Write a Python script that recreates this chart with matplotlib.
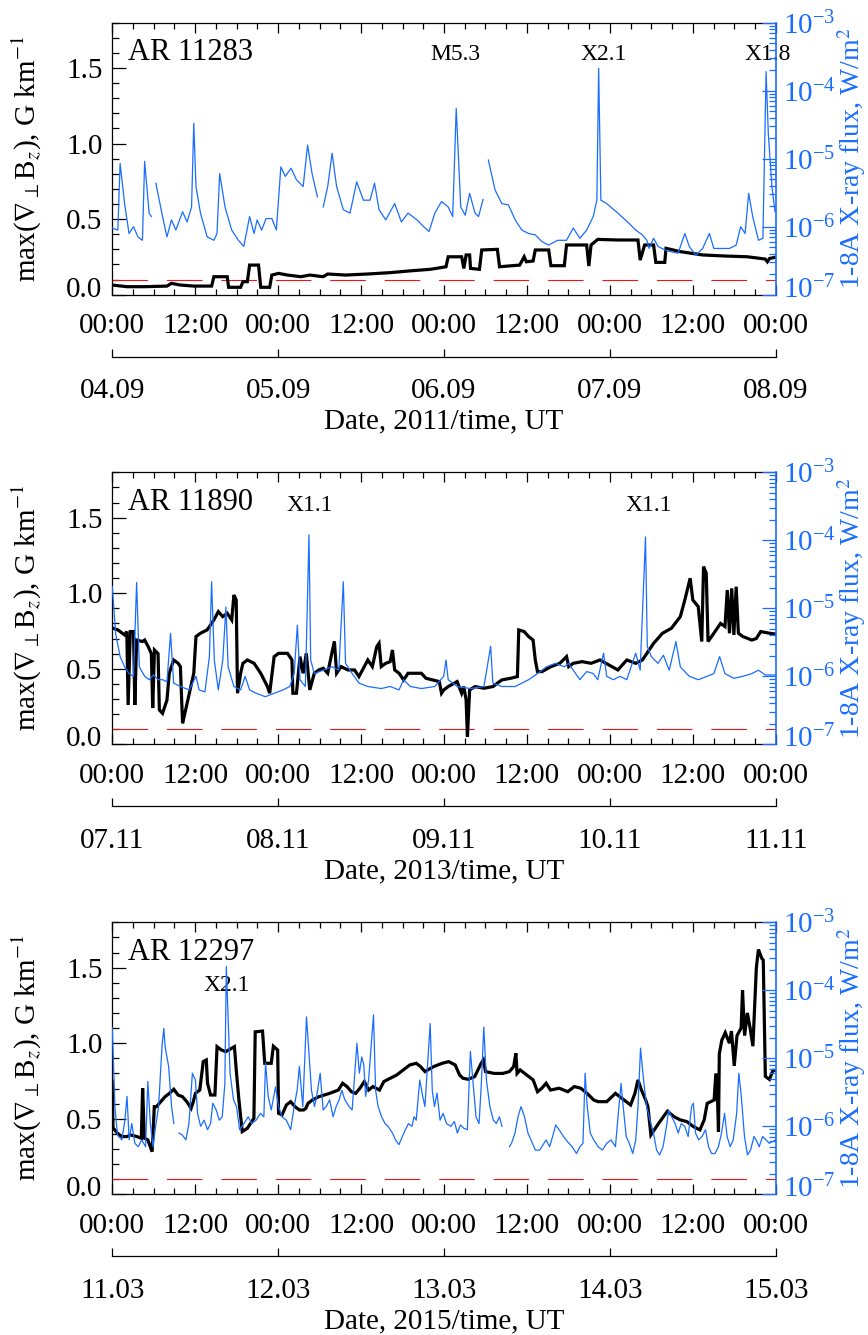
import numpy as np
import matplotlib
matplotlib.use('Agg')
import matplotlib.pyplot as plt
from matplotlib.ticker import MultipleLocator, FixedLocator, LogLocator, NullFormatter, LogFormatterSciNotation
from matplotlib.transforms import ScaledTranslation

plt.rcParams['font.family'] = ['Liberation Serif', 'DejaVu Serif']
plt.rcParams['mathtext.fontset'] = 'stix'

NAN = float('nan')
BLUE = '#1a6dff'
RED = '#e8141e'

# ---------------- data (hours since first 00:00, values) ----------------
TIME_TICKS = [0, 12, 24, 36, 48, 60, 72, 84, 96]
TIME_LABELS = ['00:00', '12:00', '00:00', '12:00', '00:00', '12:00', '00:00', '12:00', '00:00']
DAY_TICKS = [0, 24, 48, 72, 96]
FLUX_TICKS = [1e-7, 1e-6, 1e-5, 1e-4, 1e-3]

P1_DATES = ['04.09', '05.09', '06.09', '07.09', '08.09']
P2_DATES = ['07.11', '08.11', '09.11', '10.11', '11.11']
P3_DATES = ['11.03', '12.03', '13.03', '14.03', '15.03']
YEARS = ['2011', '2013', '2015']
REGIONS = ['AR 11283', 'AR 11890', 'AR 12297']
THRESHOLD = 0.1

P1_FLARES = [('M5.3', 49.7), ('X2.1', 71.1), ('X1.8', 94.8)]
P2_FLARES = [('X1.1', 28.6), ('X1.1', 77.6)]
P3_FLARES = [('X2.1', 16.5)]

# max gradient, G/km
P1_GRAD = [(0.0, 0.064), (2.1, 0.053), (4.68, 0.053), (7.91, 0.057), (8.56, 0.075), (9.85, 0.064),
           (11.79, 0.057), (14.37, 0.057), (14.7, 0.119), (16.63, 0.119), (16.83, 0.049), (18.57, 0.049),
           (18.9, 0.086), (19.54, 0.086), (19.87, 0.196), (21.16, 0.196), (21.48, 0.049), (22.77, 0.049),
           (23.09, 0.130), (24.06, 0.141), (25.35, 0.130), (27.29, 0.119), (28.58, 0.130), (30.52, 0.119),
           (31.17, 0.137), (33.75, 0.130), (36.98, 0.137), (40.21, 0.146), (43.44, 0.159), (46.03, 0.168),
           (48.29, 0.185), (48.61, 0.251), (50.55, 0.251), (50.87, 0.174), (51.2, 0.263), (51.71, 0.263),
           (51.84, 0.174), (53.13, 0.168), (53.46, 0.296), (55.72, 0.300), (56.04, 0.185), (58.95, 0.196),
           (59.6, 0.251), (59.92, 0.218), (60.89, 0.223), (61.21, 0.296), (63.15, 0.296), (63.47, 0.192),
           (65.41, 0.192), (65.73, 0.329), (68.64, 0.329), (68.96, 0.190), (69.28, 0.329), (70.25, 0.366),
           (73.16, 0.362), (76.07, 0.362), (76.39, 0.229), (77.03, 0.329), (78.33, 0.329), (78.65, 0.214),
           (79.94, 0.214), (80.13, 0.307), (82.2, 0.285), (85.43, 0.263), (88.66, 0.256), (91.89, 0.251),
           (94.48, 0.236), (94.8, 0.218), (95.12, 0.240), (95.9, 0.247)]

# log10 of GOES 1-8 A flux, W/m^2
P1_XRAY = [(0.0, -6.02), (0.8, -6.05), (1.13, -5.07), (1.78, -5.66), (2.42, -6.10), (3.07, -6.00),
           (3.71, -6.15), (4.36, -6.20), (4.68, -5.04), (5.33, -5.80), (5.65, -5.85), (5.9, NAN),
           (6.30, -5.36), (7.27, -5.85), (7.91, -6.15), (8.56, -5.90), (9.20, -6.05), (10.17, -5.78),
           (10.82, -5.93), (11.47, -5.71), (11.79, -4.48), (12.11, -5.41), (12.76, -5.80), (13.73, -6.15),
           (14.70, -6.20), (15.15, -6.10), (15.54, -5.22), (16.31, -5.71), (17.28, -6.05), (18.25, -6.20),
           (19.03, -6.29), (19.87, -5.85), (20.51, -6.10), (20.96, -5.90), (21.61, -6.05), (22.25, -5.88),
           (23.09, -5.88), (23.74, -6.05), (24.39, -5.12), (25.03, -5.26), (25.87, -5.14), (26.65, -5.31),
           (27.62, -5.41), (28.26, -4.80), (28.91, -5.22), (29.68, -5.56), (30.1, NAN), (30.52, -5.71),
           (31.17, -5.41), (31.81, -4.92), (32.46, -5.41), (33.43, -5.75), (34.40, -5.80), (35.37, -5.34),
           (36.34, -5.61), (37.30, -5.61), (37.95, -5.36), (38.60, -5.75), (39.57, -5.90), (40.86, -5.66),
           (41.83, -5.93), (42.80, -5.80), (44.09, -5.90), (45.06, -6.00), (45.84, -6.07), (46.67, -5.80),
           (47.64, -5.63), (48.61, -5.71), (49.26, -5.85), (49.77, -4.26), (50.42, -5.71), (51.07, -5.83),
           (51.71, -5.51), (52.49, -5.80), (53.00, -5.85), (53.65, -5.60), (54.0, NAN), (54.42, -5.02),
           (55.39, -5.46), (56.36, -5.66), (57.33, -5.68), (58.30, -5.90), (59.27, -6.05), (60.24, -6.10),
           (61.21, -6.12), (62.18, -6.22), (63.15, -6.27), (64.44, -6.20), (65.73, -6.20), (66.70, -6.02),
           (67.67, -6.17), (68.64, -6.05), (69.60, -5.85), (70.12, -5.61), (70.38, -3.67), (70.70, -5.61),
           (71.54, -5.66), (73.16, -5.80), (74.77, -5.95), (75.74, -6.05), (76.71, -6.12), (77.36, -6.20),
           (77.68, -6.32), (78.33, -6.17), (78.97, -6.29), (79.94, -6.34), (80.91, -6.37), (81.88, -6.39),
           (82.85, -6.10), (83.49, -6.29), (84.46, -6.42), (85.43, -6.32), (86.40, -6.10), (87.05, -6.32),
           (88.02, -6.32), (89.31, -6.32), (90.28, -6.27), (90.93, -6.00), (91.57, -6.10), (92.09, -5.51),
           (92.67, -5.85), (93.51, -6.20), (94.15, -6.17), (94.61, -3.72), (94.93, -4.63), (95.45, -5.41),
           (95.90, -5.78)]

P2_GRAD = [(0.0, 0.77), (0.81, 0.757), (1.78, 0.724), (2.1, 0.746), (2.29, 0.26), (2.6, 0.746), (3.07, 0.746),
           (3.26, 0.26), (3.52, 0.69), (4.36, 0.68), (4.68, 0.69), (5.2, 0.646), (5.65, 0.60), (5.85, 0.24),
           (6.1, 0.624), (6.62, 0.60), (6.81, 0.227), (7.27, 0.205), (7.91, 0.293), (8.24, 0.47), (8.88, 0.558),
           (9.53, 0.536), (9.85, 0.514), (10.17, 0.139), (10.5, 0.205), (11.14, 0.338), (11.79, 0.47),
           (12.11, 0.713), (12.76, 0.735), (13.73, 0.757), (14.7, 0.823), (15.34, 0.878), (15.99, 0.845),
           (16.63, 0.867), (17.28, 0.823), (17.6, 0.988), (17.93, 0.955), (18.12, 0.338), (18.57, 0.47),
           (18.9, 0.536), (19.54, 0.558), (20.51, 0.536), (21.48, 0.47), (22.45, 0.382), (22.77, 0.338),
           (23.42, 0.58), (24.06, 0.602), (25.35, 0.602), (26.0, 0.558), (26.13, 0.338), (26.65, 0.338),
           (27.16, 0.58), (27.62, 0.47), (28.07, 0.602), (28.58, 0.36), (29.23, 0.47), (29.88, 0.492),
           (30.52, 0.503), (31.17, 0.47), (31.81, 0.613), (32.14, 0.68), (32.46, 0.47), (33.11, 0.514),
           (34.08, 0.492), (35.05, 0.492), (35.69, 0.448), (36.98, 0.558), (37.63, 0.514), (38.27, 0.646),
           (38.6, 0.668), (38.92, 0.514), (39.57, 0.536), (40.21, 0.547), (40.54, 0.624), (40.86, 0.492),
           (41.5, 0.47), (42.15, 0.426), (42.8, 0.47), (44.09, 0.47), (44.73, 0.47), (45.38, 0.437),
           (46.35, 0.426), (47.32, 0.415), (47.64, 0.338), (47.96, 0.36), (48.61, 0.382), (49.9, 0.415),
           (50.55, 0.338), (50.87, 0.382), (51.2, 0.293), (51.39, 0.05), (51.71, 0.36), (52.49, 0.382),
           (53.78, 0.371), (55.07, 0.382), (56.36, 0.426), (57.65, 0.437), (58.62, 0.448), (58.82, 0.757),
           (59.6, 0.746), (60.24, 0.713), (60.89, 0.69), (61.21, 0.558), (61.53, 0.481), (62.18, 0.481),
           (63.47, 0.514), (64.76, 0.536), (65.73, 0.58), (66.05, 0.514), (66.7, 0.536), (67.99, 0.547),
           (69.28, 0.536), (70.57, 0.558), (71.87, 0.525), (73.16, 0.492), (74.45, 0.558), (75.74, 0.536),
           (76.71, 0.558), (77.36, 0.602), (78.33, 0.668), (79.62, 0.735), (80.91, 0.768), (82.2, 0.845),
           (82.85, 0.955), (83.62, 1.099), (84.01, 0.955), (84.79, 0.911), (85.3, 0.68), (85.56, 1.176),
           (85.95, 1.132), (86.21, 0.68), (87.05, 0.735), (88.02, 0.80), (88.66, 0.779), (88.99, 1.021),
           (89.31, 0.735), (89.63, 1.032), (89.95, 0.724), (90.28, 1.043), (90.6, 0.735), (91.25, 0.713),
           (92.54, 0.69), (93.19, 0.70), (93.83, 0.746), (95.12, 0.735), (95.9, 0.73)]

P2_XRAY = [(0.0, -4.68), (0.48, -5.37), (1.13, -5.71), (1.78, -5.86), (2.42, -5.96), (3.07, -6.00),
           (3.52, -4.62), (3.91, -5.86), (4.68, -6.00), (5.33, -6.05), (5.98, -5.98), (6.62, -6.05),
           (7.27, -6.05), (7.91, -6.08), (8.43, -5.37), (8.88, -6.10), (9.85, -6.15), (11.14, -6.20),
           (12.11, -6.00), (12.56, -6.20), (13.4, -6.23), (14.05, -5.71), (14.37, -4.61), (14.76, -5.76),
           (15.34, -6.20), (15.99, -5.76), (16.44, -4.98), (16.76, -5.86), (17.6, -6.15), (18.57, -6.20),
           (19.22, -6.00), (19.87, -6.20), (20.83, -6.25), (22.13, -6.30), (23.42, -6.25), (24.71, -6.20),
           (25.68, -6.15), (26.32, -5.96), (26.78, -5.25), (27.16, -6.05), (27.94, -6.15), (28.46, -3.92),
           (28.71, -5.76), (29.23, -5.96), (30.52, -5.91), (31.81, -5.86), (32.78, -5.91), (33.43, -4.61),
           (33.75, -5.81), (34.72, -5.96), (35.69, -6.10), (36.98, -6.15), (38.92, -6.18), (40.21, -6.15),
           (41.5, -6.20), (42.15, -6.05), (43.12, -6.15), (44.73, -6.18), (46.67, -6.15), (47.96, -6.00),
           (48.29, -5.76), (48.61, -6.05), (49.9, -6.15), (51.84, -6.18), (53.78, -6.15), (54.42, -5.76),
           (54.75, -5.56), (55.07, -6.10), (56.36, -6.15), (58.3, -6.15), (60.24, -6.05), (61.53, -5.96),
           (62.82, -5.86), (64.11, -5.81), (65.41, -5.86), (66.05, -5.81), (66.7, -5.91), (67.67, -6.05),
           (68.64, -5.93), (69.6, -5.96), (70.25, -6.05), (71.09, -5.66), (71.54, -6.00), (72.51, -6.05),
           (73.48, -6.00), (74.45, -6.05), (75.74, -5.66), (76.39, -5.91), (77.16, -3.95), (77.42, -5.56),
           (78.0, -5.71), (78.97, -5.81), (79.75, -5.69), (80.59, -5.91), (81.56, -5.49), (82.2, -5.86),
           (83.49, -6.00), (84.79, -6.05), (86.08, -6.00), (87.05, -5.96), (87.89, -5.71), (88.66, -5.96),
           (89.95, -6.03), (91.25, -6.00), (92.54, -5.96), (93.51, -5.91), (94.48, -5.98), (95.9, -5.98)]

P3_GRAD = [(0.0, 0.75), (0.1, 0.44), (0.75, 0.404), (1.38, 0.382), (2.13, 0.382), (2.63, 0.393),
           (3.57, 0.382), (4.2, 0.371), (4.39, 0.702), (4.64, 0.371), (5.14, 0.36), (5.76, 0.282),
           (6.08, 0.58), (6.39, 0.58), (7.02, 0.613), (7.64, 0.646), (8.27, 0.668), (8.90, 0.695),
           (9.52, 0.657), (10.15, 0.646), (10.78, 0.613), (11.4, 0.569), (11.72, 0.613), (12.03, 0.668),
           (12.66, 0.69), (13.16, 0.878), (13.6, 0.889), (13.78, 0.735), (14.22, 0.657), (14.85, 0.657),
           (15.16, 0.977), (15.79, 0.955), (16.42, 0.944), (17.67, 0.977), (17.98, 0.80), (18.3, 0.635),
           (18.8, 0.415), (19.55, 0.437), (20.49, 0.503), (20.68, 1.075), (21.74, 1.08), (22.06, 0.867),
           (23.0, 0.867), (23.31, 0.98), (23.93, 0.955), (24.06, 0.536), (24.56, 0.525), (25.19, 0.591),
           (25.81, 0.613), (26.44, 0.58), (27.07, 0.558), (27.69, 0.558), (28.01, 0.569), (28.32, 0.602),
           (28.95, 0.624), (29.89, 0.646), (31.45, 0.668), (32.71, 0.69), (33.33, 0.735), (33.96, 0.713),
           (34.59, 0.679), (35.21, 0.668), (35.84, 0.702), (36.47, 0.746), (37.09, 0.69), (37.72, 0.713),
           (38.66, 0.69), (39.29, 0.746), (40.23, 0.768), (41.17, 0.79), (42.11, 0.823), (43.05, 0.856),
           (43.98, 0.867), (44.61, 0.845), (45.24, 0.812), (46.49, 0.845), (47.74, 0.867), (48.68, 0.878),
           (49.62, 0.856), (50.25, 0.79), (50.75, 0.768), (51.5, 0.761), (52.44, 0.779), (53.38, 0.867),
           (53.7, 0.889), (54.01, 0.812), (55.26, 0.80), (56.52, 0.80), (57.46, 0.812), (58.08, 0.845),
           (58.4, 0.933), (58.58, 0.80), (59.02, 0.823), (59.96, 0.79), (60.9, 0.757), (61.53, 0.679),
           (62.16, 0.702), (62.78, 0.735), (63.41, 0.69), (64.66, 0.702), (65.91, 0.679), (66.85, 0.713),
           (67.79, 0.702), (68.73, 0.667), (69.67, 0.624), (70.3, 0.613), (71.55, 0.613), (72.81, 0.668),
           (74.06, 0.624), (75.0, 0.591), (75.63, 0.668), (76.07, 0.757), (76.57, 0.69), (77.19, 0.624),
           (77.51, 0.58), (77.94, 0.393), (79.07, 0.47), (80.33, 0.55), (81.27, 0.514), (82.21, 0.492),
           (83.15, 0.481), (84.09, 0.448), (85.03, 0.426), (85.65, 0.492), (86.09, 0.602), (86.59, 0.613),
           (87.09, 0.624), (87.34, 0.80), (87.6, 0.60), (87.72, 0.415), (87.84, 0.93), (88.2, 1.02),
           (88.7, 1.07), (89.3, 1.0), (89.6, 1.08), (90.0, 0.85), (90.4, 1.05), (91.0, 1.10), (91.2, 1.35),
           (91.5, 1.05), (91.9, 1.20), (92.3, 1.10), (92.7, 0.98), (93.0, 1.30), (93.2, 1.50), (93.5, 1.62),
           (94.0, 1.56), (94.2, 1.55), (94.5, 0.78), (95.1, 0.76), (95.6, 0.82), (96.0, 0.82)]

P3_XRAY = [(0.0, -4.55), (0.38, -5.71), (0.75, -6.13), (1.38, -6.20), (1.82, -5.91), (2.13, -5.56),
           (2.44, -6.20), (2.82, -5.96), (3.26, -6.25), (3.76, -6.30), (4.26, -6.20), (4.82, -6.30),
           (5.14, -5.34), (5.51, -5.96), (5.89, -6.30), (6.27, -6.00), (6.70, -5.71), (7.21, -4.80),
           (7.46, -4.56), (7.64, -4.83), (8.15, -5.12), (8.58, -5.71), (8.90, -5.96), (9.3, NAN),
           (9.65, -6.10), (10.15, -6.13), (10.65, -6.20), (11.09, -5.96), (11.59, -5.22), (12.03, -5.32),
           (12.34, -5.81), (12.78, -6.00), (13.28, -5.91), (13.78, -6.05), (14.22, -5.96), (14.54, -5.66),
           (15.04, -5.76), (15.48, -5.91), (15.91, -5.86), (16.29, -5.37), (16.5, -3.65), (17.04, -5.22),
           (17.54, -5.61), (17.98, -5.71), (18.42, -6.05), (19.05, -5.96), (19.67, -5.86), (20.18, -5.96),
           (20.8, -5.91), (21.43, -5.81), (21.93, -5.86), (22.18, -5.07), (22.56, -5.56), (23.0, -5.76),
           (23.62, -5.42), (24.06, -5.71), (24.56, -5.86), (25.19, -5.91), (25.81, -6.05), (26.32, -5.71),
           (26.75, -5.47), (27.07, -5.12), (27.57, -5.71), (28.1, -4.39), (28.82, -5.47), (29.26, -5.71),
           (29.57, -5.56), (30.08, -5.22), (30.51, -5.76), (30.95, -5.71), (31.45, -5.61), (31.95, -5.86),
           (32.39, -5.71), (32.83, -5.61), (33.21, -5.47), (33.65, -5.61), (34.27, -5.71), (34.71, -5.76),
           (35.4, -4.78), (35.75, -5.22), (36.1, -4.98), (36.4, -5.10), (36.65, -5.56), (37.09, -5.32),
           (37.8, -4.36), (38.1, -5.47), (38.47, -5.71), (38.97, -5.86), (39.47, -5.96), (39.91, -6.00),
           (40.54, -6.10), (40.98, -6.20), (41.48, -6.27), (41.98, -6.15), (42.42, -6.05), (42.86, -5.96),
           (43.36, -6.00), (43.67, -5.86), (43.98, -5.91), (44.49, -5.32), (44.92, -5.56), (45.24, -5.71),
           (46.0, -4.49), (46.3, -5.47), (46.62, -5.71), (46.99, -5.51), (47.43, -5.91), (47.87, -5.81),
           (48.37, -5.96), (49.0, -6.00), (49.5, -5.93), (49.94, -6.10), (50.38, -5.98), (50.88, -6.03),
           (51.38, -6.05), (51.82, -4.90), (52.26, -5.42), (52.63, -5.86), (53.07, -5.96), (53.38, -5.42),
           (53.76, -4.54), (54.14, -5.32), (54.64, -5.71), (55.14, -5.91), (55.58, -5.96), (56.02, -5.86),
           (56.39, -6.00), (56.9, NAN), (57.46, -6.30), (57.77, -6.25), (58.27, -6.10), (58.71, -5.86),
           (59.15, -5.71), (59.65, -5.86), (60.15, -6.10), (60.59, -6.20), (61.22, -6.35), (61.84, -6.35),
           (62.47, -6.25), (62.78, -6.20), (63.28, -6.30), (63.72, -6.15), (64.16, -5.98), (64.66, -6.05),
           (65.29, -6.15), (65.91, -6.23), (66.54, -6.30), (67.17, -6.40), (67.67, -6.30), (68.11, -6.25),
           (68.42, -5.22), (68.73, -5.71), (69.17, -6.10), (69.67, -6.20), (70.3, -6.30), (70.93, -6.35),
           (71.55, -6.25), (72.18, -6.20), (72.81, -6.30), (73.31, -5.71), (73.62, -5.37), (73.93, -5.71),
           (74.37, -6.15), (74.81, -6.25), (75.31, -6.40), (75.75, -6.20), (76.07, -5.71), (76.44, -4.85),
           (76.88, -5.32), (77.32, -5.71), (77.82, -5.91), (78.32, -6.10), (78.76, -6.35), (79.2, -6.42),
           (79.7, -6.30), (80.2, -6.00), (80.51, -5.76), (80.95, -5.86), (81.45, -5.96), (81.89, -6.10),
           (82.33, -5.96), (82.83, -6.00), (83.33, -6.15), (83.83, -5.71), (84.09, -5.66), (84.4, -6.10),
           (84.84, -6.20), (85.34, -6.15), (85.84, -6.05), (86.28, -6.30), (86.72, -6.40), (87.22, -6.40),
           (87.72, -6.30), (88.16, -6.10), (88.6, -5.81), (88.97, -6.15), (89.41, -6.30), (89.85, -6.20),
           (90.35, -5.81), (90.66, -5.22), (90.98, -5.51), (91.48, -6.15), (91.92, -6.42), (92.36, -6.35),
           (92.86, -6.15), (93.17, -6.20), (93.61, -6.30), (94.11, -6.15), (94.61, -6.20), (95.05, -6.25),
           (96.0, -6.20)]

PANELS = [
    (REGIONS[0], P1_GRAD, P1_XRAY, P1_DATES, YEARS[0], P1_FLARES, 1.59),
    (REGIONS[1], P2_GRAD, P2_XRAY, P2_DATES, YEARS[1], P2_FLARES, 1.58),
    (REGIONS[2], P3_GRAD, P3_XRAY, P3_DATES, YEARS[2], P3_FLARES, 1.385),
]

# ---------------- layout ----------------
W, H = 868, 1335
fig = plt.figure(figsize=(W / 100, H / 100), dpi=100)
left_px, right_px = 112.3, 775.7
tops_px = [22.7, 472.3, 922.3]
ax_h_px = 272.0
FS = 21
lift = ScaledTranslation(0, 0.08, fig.dpi_scale_trans)

for (region, grad, xray, dates, year, flares, flare_y), top in zip(PANELS, tops_px):
    ax = fig.add_axes([left_px / W, 1 - (top + ax_h_px) / H, (right_px - left_px) / W, ax_h_px / H])
    gh, gv = zip(*grad)
    ax.plot(gh, gv, color='black', lw=2.3, solid_joinstyle='miter', zorder=3)
    ax.axhline(THRESHOLD, color=RED, lw=0.8, dashes=(32, 17), zorder=2)
    ax.set_xlim(0, 96)
    ax.set_ylim(0, 1.8)
    ax.xaxis.set_major_locator(FixedLocator(TIME_TICKS))
    ax.set_xticklabels(TIME_LABELS)
    ax.xaxis.set_minor_locator(MultipleLocator(3))
    ax.yaxis.set_major_locator(FixedLocator([0, 0.5, 1.0, 1.5]))
    ax.set_yticklabels(['0.0', '0.5', '1.0', '1.5'])
    ax.yaxis.set_minor_locator(MultipleLocator(0.1))
    ax.tick_params(which='both', direction='in', top=True, right=False, width=0.9)
    ax.tick_params(axis='x', which='major', length=7, labelsize=FS, pad=13.5)
    ax.tick_params(axis='x', which='minor', length=4)
    ax.tick_params(axis='y', which='major', length=10, labelsize=FS, pad=7)
    ax.tick_params(axis='y', which='minor', length=5)
    ax.spines['right'].set_visible(False)
    for s in ['top', 'bottom', 'left']:
        ax.spines[s].set_linewidth(0.9)
    ax.set_ylabel(r'max($\nabla_{\perp}$B$_z$), G km$^{-1}$', fontsize=FS)
    ax.yaxis.set_label_coords(-0.103, 0.5)
    t0 = ax.yaxis.get_major_ticks()[0].label1
    t0.set_transform(t0.get_transform() + lift)

    ax.text(2.2, 1.6, region, fontsize=FS + 1, ha='left', va='center', zorder=5)
    for lab, fh in flares:
        ax.text(fh, flare_y, lab, fontsize=17, ha='center', va='center', zorder=5, clip_on=False)

    tw = ax.twinx()
    xh, xl = zip(*xray)
    tw.plot(xh, np.power(10.0, np.array(xl)), color=BLUE, lw=0.9, zorder=4)
    tw.set_yscale('log')
    tw.set_ylim(1e-7, 1e-3)
    tw.yaxis.set_major_locator(FixedLocator(FLUX_TICKS))
    tw.yaxis.set_major_formatter(LogFormatterSciNotation())
    tw.yaxis.set_minor_locator(LogLocator(base=10, subs=np.arange(2, 10), numticks=100))
    tw.yaxis.set_minor_formatter(NullFormatter())
    tw.tick_params(axis='y', which='major', direction='in', length=10, width=0.9,
                   colors=BLUE, labelsize=FS, pad=5)
    tw.tick_params(axis='y', which='minor', direction='in', length=5, width=0.9, color=BLUE)
    for s in ['top', 'bottom', 'left']:
        tw.spines[s].set_visible(False)
    tw.spines['right'].set_color(BLUE)
    tw.spines['right'].set_linewidth(1.2)
    tw.set_ylabel('1-8A X-ray flux, W/m$^2$', color=BLUE, fontsize=20)
    tw.yaxis.set_label_coords(1.089, 0.5)
    r0 = tw.yaxis.get_major_ticks()[0].label2
    r0.set_transform(r0.get_transform() + lift)

    sec = ax.secondary_xaxis(-62.0 / ax_h_px)
    sec.set_xticks(DAY_TICKS)
    sec.set_xticklabels(dates)
    sec.tick_params(direction='in', length=6, width=0.9, labelsize=FS, pad=15.5)
    sec.spines['bottom'].set_linewidth(0.9)
    sec.set_xlabel(f'Date, {year}/time, UT', fontsize=FS, labelpad=3)

fig.savefig('out.png', dpi=100)
